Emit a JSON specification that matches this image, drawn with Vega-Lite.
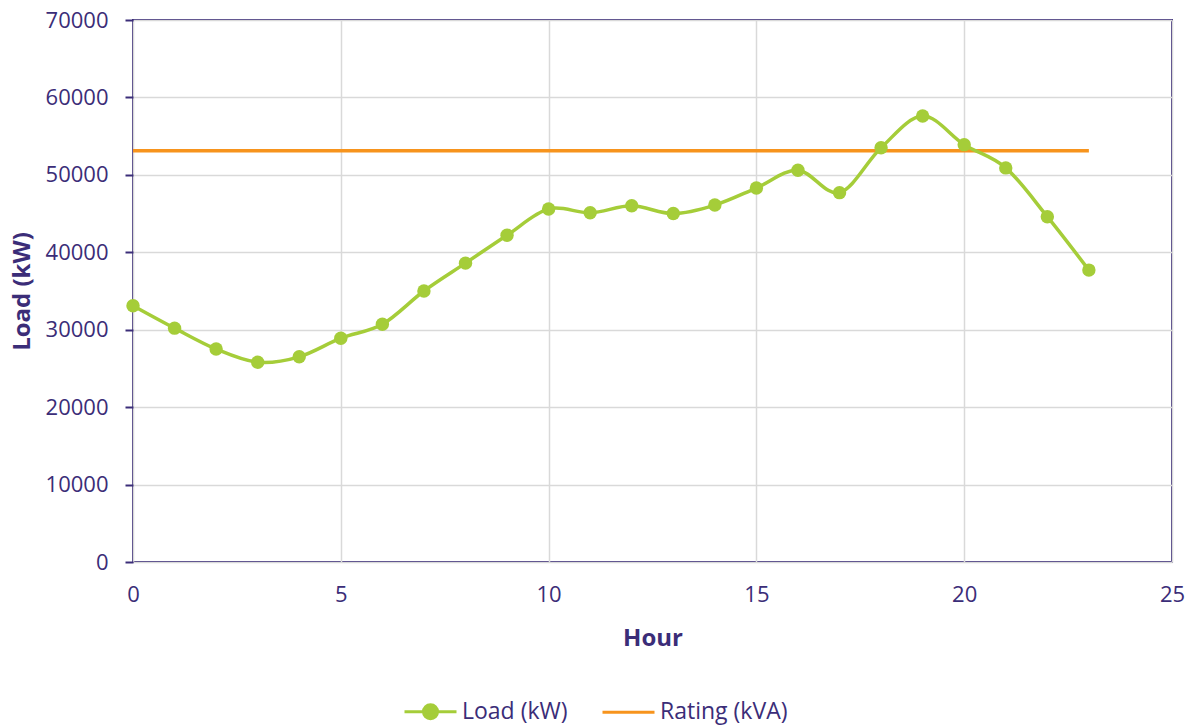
{
  "$schema": "https://vega.github.io/schema/vega-lite/v6.json",
  "autosize": {"type": "none"},
  "width": 1039,
  "height": 542,
  "padding": {"left": 133, "top": 20, "right": 21, "bottom": 165},
  "background": "white",
  "config": {
    "font": "Open Sans",
    "view": {"stroke": "#3B2D78", "strokeWidth": 2},
    "axis": {
      "labelFont": "Open Sans",
      "titleFont": "Open Sans",
      "labelColor": "#3B2D78",
      "titleColor": "#3B2D78",
      "labelFontSize": 22,
      "titleFontSize": 24,
      "titleFontWeight": "bold",
      "gridColor": "#D9D9D9",
      "gridWidth": 1.5,
      "domain": false,
      "tickColor": "#3B2D78",
      "tickWidth": 2
    }
  },
  "data": {
    "values": [
      {"hour": 0, "series": "Load (kW)", "value": 33100},
      {"hour": 1, "series": "Load (kW)", "value": 30200},
      {"hour": 2, "series": "Load (kW)", "value": 27500},
      {"hour": 3, "series": "Load (kW)", "value": 25800},
      {"hour": 4, "series": "Load (kW)", "value": 26500},
      {"hour": 5, "series": "Load (kW)", "value": 28900},
      {"hour": 6, "series": "Load (kW)", "value": 30700},
      {"hour": 7, "series": "Load (kW)", "value": 35000},
      {"hour": 8, "series": "Load (kW)", "value": 38600},
      {"hour": 9, "series": "Load (kW)", "value": 42200},
      {"hour": 10, "series": "Load (kW)", "value": 45600},
      {"hour": 11, "series": "Load (kW)", "value": 45100},
      {"hour": 12, "series": "Load (kW)", "value": 46000},
      {"hour": 13, "series": "Load (kW)", "value": 45000},
      {"hour": 14, "series": "Load (kW)", "value": 46100},
      {"hour": 15, "series": "Load (kW)", "value": 48300},
      {"hour": 16, "series": "Load (kW)", "value": 50600},
      {"hour": 17, "series": "Load (kW)", "value": 47700},
      {"hour": 18, "series": "Load (kW)", "value": 53500},
      {"hour": 19, "series": "Load (kW)", "value": 57600},
      {"hour": 20, "series": "Load (kW)", "value": 53900},
      {"hour": 21, "series": "Load (kW)", "value": 50900},
      {"hour": 22, "series": "Load (kW)", "value": 44600},
      {"hour": 23, "series": "Load (kW)", "value": 37700},
      {"hour": 0, "series": "Rating (kVA)", "value": 53100},
      {"hour": 23, "series": "Rating (kVA)", "value": 53100}
    ]
  },
  "encoding": {
    "x": {
      "field": "hour",
      "type": "quantitative",
      "title": "Hour",
      "scale": {"domain": [0, 25], "nice": false},
      "axis": {"values": [0, 5, 10, 15, 20, 25], "ticks": false, "labelPadding": 22, "titlePadding": 21, "labelFlush": false}
    },
    "y": {
      "field": "value",
      "type": "quantitative",
      "title": "Load (kW)",
      "scale": {"domain": [0, 70000], "nice": false},
      "axis": {"values": [0, 10000, 20000, 30000, 40000, 50000, 60000, 70000], "format": "d", "tickSize": 8, "labelPadding": 17, "titlePadding": 11}
    }
  },
  "layer": [
    {
      "transform": [{"filter": "datum.series == 'Rating (kVA)'"}],
      "mark": {"type": "line", "color": "#F7941D", "strokeWidth": 3.5}
    },
    {
      "transform": [{"filter": "datum.series == 'Load (kW)'"}],
      "mark": {"type": "line", "color": "#A5CD39", "strokeWidth": 3.5, "interpolate": "cardinal"}
    },
    {
      "transform": [{"filter": "datum.series == 'Load (kW)'"}],
      "mark": {"type": "point", "filled": true, "color": "#A5CD39", "size": 180, "opacity": 1}
    },
    {
      "transform": [{"filter": "datum.value < 0"}],
      "mark": {"type": "point", "filled": true},
      "encoding": {
        "fill": {
          "field": "series", "type": "nominal", "title": null,
          "scale": {"domain": ["Load (kW)", "Rating (kVA)"], "range": ["#A5CD39", "#F7941D"]}
        },
        "stroke": {
          "field": "series", "type": "nominal", "title": null,
          "scale": {"domain": ["Load (kW)", "Rating (kVA)"], "range": ["#A5CD39", "#F7941D"]}
        },
        "shape": {
          "field": "series", "type": "nominal", "title": null,
          "scale": {"domain": ["Load (kW)", "Rating (kVA)"], "range": ["M-1,0H1M0.27,0A0.27,0.27 0 1 1 -0.27,0A0.27,0.27 0 1 1 0.27,0Z", "M-1,0H1"]},
          "legend": {
            "orient": "none",
            "direction": "horizontal",
            "legendX": 270,
            "legendY": 664,
            "symbolSize": 2704,
            "symbolStrokeWidth": 3,
            "symbolOpacity": 1,
            "labelFont": "Open Sans",
            "labelFontSize": 23,
            "labelColor": "#3B2D78",
            "labelOffset": 4,
            "columnPadding": 28
          }
        }
      }
    }
  ]
}
